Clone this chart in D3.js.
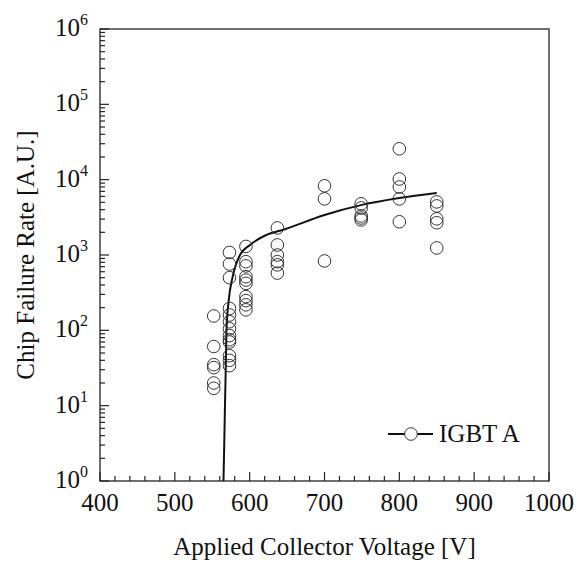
<!DOCTYPE html>
<html>
<head>
<meta charset="utf-8">
<script src="https://cdn.jsdelivr.net/npm/d3@7"></script>
<style>
  body { margin: 0; background: #fff; }
  svg text { font-family: "Liberation Serif", "Times New Roman", "DejaVu Serif", serif; fill: #111; }
</style>
</head>
<body>
<div class="chart"></div>
<script>
// measured points (voltage, failure rate)
const voltages = [552,552,552,552,552,552,
    573,573,573,573,573,573,573,573,573,573,573,573,573,
    595,595,595,595,595,595,595,595,595,595,
    637,637,637,637,637,637,
    700,700,700,
    749,749,749,749,749,
    800,800,800,800,800,
    850,850,850,850,850];
const rates = [155,61,35,32,20,17,
    1080,760,500,195,160,130,105,85,75,70,46,40,34,
    1300,815,716,515,465,420,280,248,218,187,
    2290,1360,1000,815,740,575,
    8300,5560,834,
    4780,4220,3300,3100,2920,
    25700,10200,8000,5560,2760,
    5070,4480,3020,2680,1240];

// fitted curve
const curveV = [565,566,567,568,569,572,577,587,600,620,647,700,750,800,850];
const curveR = [1,3,10,30,100,250,500,1000,1350,1800,2200,3400,4630,5700,6650];

const xTicks = [400,500,600,700,800,900,1000];
const yExp = [0,1,2,3,4,5,6];

const margin = {top:29, left:100, right:35, bottom:80};
const width = 584 - margin.left - margin.right;
const plotH = 452;

const svg = d3.select('.chart').append('svg')
    .attr("width", 584)
    .attr("height", 561)
    .attr("font-family", "Liberation Serif, Times New Roman, serif")
    .append("g")
    .attr("transform", "translate(" + margin.left + "," + margin.top + ")");

const xScale = d3.scaleLinear().domain([400,1000]).range([0,width]);
const yScale = d3.scaleLog().domain([1,1e6]).range([plotH,0]);

// frame
svg.append("rect")
    .attr("width", width).attr("height", plotH)
    .attr("fill", "none").attr("stroke", "#222").attr("stroke-width", 1.3);

// x ticks (inward)
const xMinor = d3.range(400, 1001, 20);
svg.append("g").selectAll("line")
    .data(xMinor)
    .enter().append("line")
    .attr("x1", d=>xScale(d)).attr("x2", d=>xScale(d))
    .attr("y1", plotH)
    .attr("y2", d=> d%100===0 ? plotH-9 : plotH-5)
    .attr("stroke", "#222").attr("stroke-width", 1.2);

svg.append("g").selectAll("text")
    .data(xTicks)
    .enter().append("text")
    .attr("x", d=>xScale(d))
    .attr("y", plotH+30)
    .attr("text-anchor", "middle")
    .style("font-size", "25px")
    .text(d=>d);

// y ticks (inward, log)
const yMinor = [];
yExp.forEach(e=>{
    if (e < 6) for (let k=1;k<10;k++) yMinor.push(k*Math.pow(10,e));
});
yMinor.push(1e6);
svg.append("g").selectAll("line")
    .data(yMinor)
    .enter().append("line")
    .attr("x1", 0)
    .attr("x2", d=> Math.abs(Math.log10(d)%1) < 1e-9 ? 9 : 5)
    .attr("y1", d=>yScale(d)).attr("y2", d=>yScale(d))
    .attr("stroke", "#222").attr("stroke-width", 1.2);

const yLab = svg.append("g").selectAll("text")
    .data(yExp)
    .enter().append("text")
    .attr("x", -12)
    .attr("y", d=>yScale(Math.pow(10,d))+7)
    .attr("text-anchor", "end");
yLab.append("tspan").style("font-size", "25px").text("10");
yLab.append("tspan").style("font-size", "16px").attr("dy", -11).text(d=>d);

// axis titles
svg.append("text")
    .attr("x", width/2)
    .attr("y", plotH+74)
    .attr("text-anchor", "middle")
    .style("font-size", "25px")
    .text("Applied Collector Voltage [V]");

svg.append("text")
    .attr("transform", `translate(${-66},${plotH/2})rotate(-90)`)
    .attr("text-anchor", "middle")
    .style("font-size", "25px")
    .text("Chip Failure Rate [A.U.]");

// fitted line
const line = d3.line()
    .x(d=>xScale(d[0]))
    .y(d=>yScale(d[1]))
    .curve(d3.curveMonotoneX);
svg.append("path")
    .datum(curveV.map((v,i)=>[v, curveR[i]]))
    .attr("d", line)
    .attr("fill", "none")
    .attr("stroke", "#111")
    .attr("stroke-width", 2);

// points
svg.append("g").selectAll("circle")
    .data(voltages.map((v,i)=>({v:v, r:rates[i]})))
    .enter().append("circle")
    .attr("cx", d=>xScale(d.v))
    .attr("cy", d=>yScale(d.r))
    .attr("r", 6.3)
    .attr("fill", "none")
    .attr("stroke", "#333")
    .attr("stroke-width", 1);

// legend
const legend = svg.append("g").attr("id", "legend");
legend.append("line")
    .attr("x1", 288).attr("x2", 333)
    .attr("y1", 405).attr("y2", 405)
    .attr("stroke", "#111").attr("stroke-width", 2);
legend.append("circle")
    .attr("cx", 311).attr("cy", 405).attr("r", 6.3)
    .attr("fill", "#fff").attr("stroke", "#333");
legend.append("text")
    .attr("x", 339).attr("y", 413)
    .style("font-size", "25px")
    .text("IGBT A");
</script>
</body>
</html>
